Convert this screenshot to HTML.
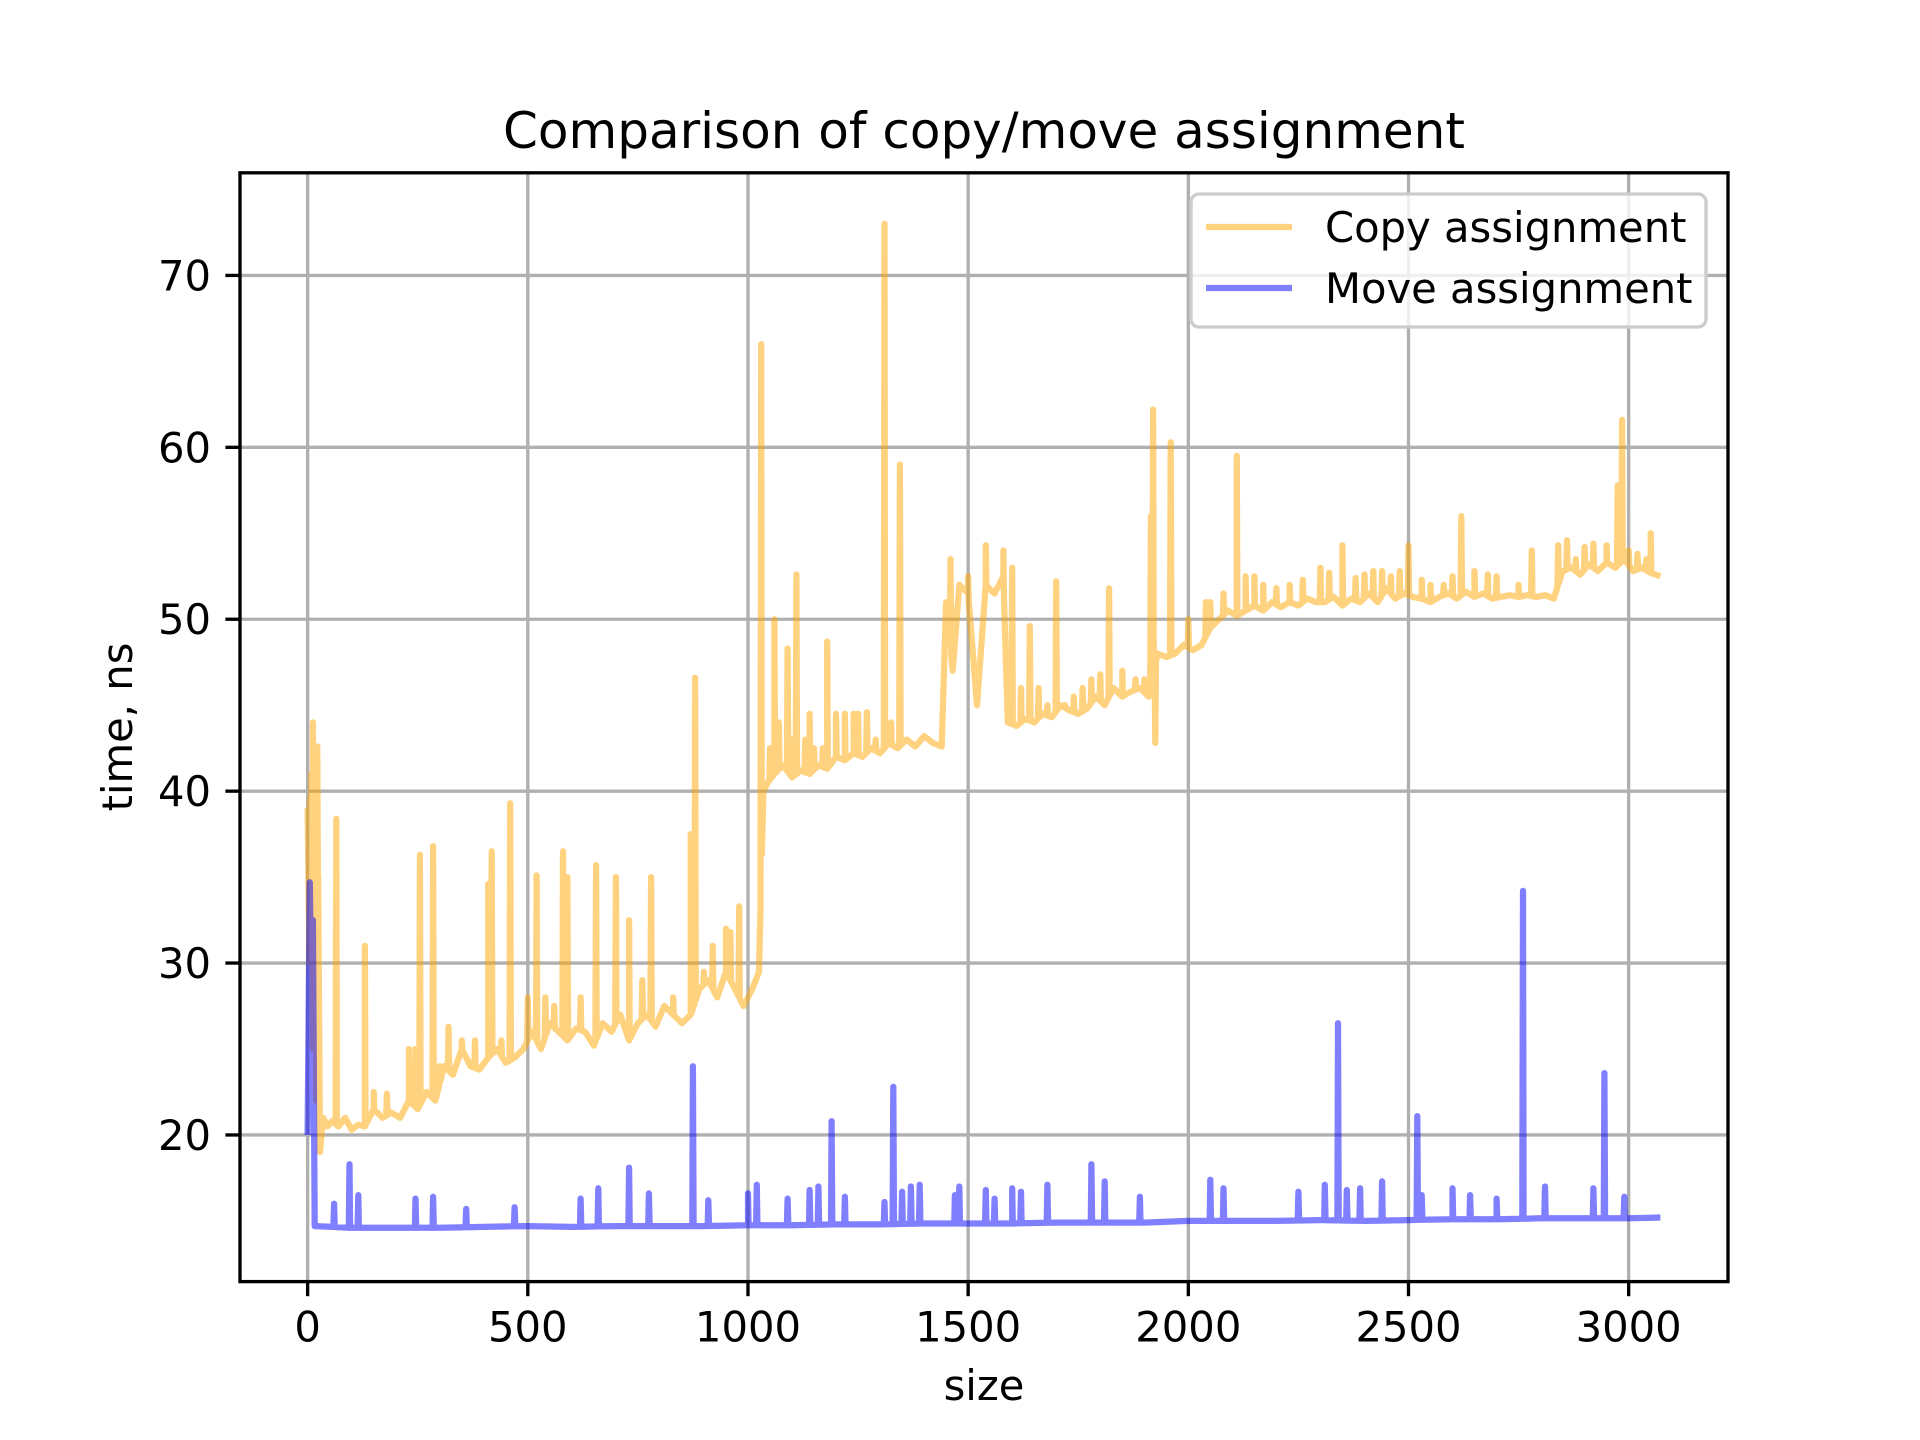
<!DOCTYPE html>
<html><head><meta charset="utf-8"><style>
html,body{margin:0;padding:0;background:#fff;}
svg{display:block;font-family:"DejaVu Sans","Liberation Sans",sans-serif;}
</style></head><body>
<svg id="chart" width="1920" height="1440" viewBox="0 0 1920 1440" xmlns="http://www.w3.org/2000/svg">
<rect x="0" y="0" width="1920" height="1440" fill="#fff"/>
<defs><clipPath id="clip"><rect x="240" y="172.8" width="1488" height="1108.8"/></clipPath></defs>
<g id="grid"></g>
<g id="series" clip-path="url(#clip)"></g>
<rect x="240" y="172.8" width="1488" height="1108.8" fill="none" stroke="#000" stroke-width="3.33"/>
<g id="ticks"></g>
<text x="984" y="148" font-size="50" text-anchor="middle">Comparison of copy/move assignment</text>
<text x="984" y="1400" font-size="41.7" text-anchor="middle">size</text>
<text x="0" y="0" font-size="41.7" text-anchor="middle" transform="translate(132,727) rotate(-90)">time,  ns</text>
<g>
<rect x="1191" y="194" width="515" height="133" rx="8" fill="#fff" fill-opacity="0.8" stroke="#ccc" stroke-width="3.33"/>
<line x1="1206" y1="227" x2="1292" y2="227" stroke="#ffa500" stroke-opacity="0.5" stroke-width="6.25"/>
<text x="1325" y="242" font-size="41.7">Copy assignment</text>
<line x1="1206" y1="288" x2="1292" y2="288" stroke="#0000ff" stroke-opacity="0.5" stroke-width="6.25"/>
<text x="1325" y="303" font-size="41.7">Move assignment</text>
</g>
</svg>
<script>
const xTicks=[0,500,1000,1500,2000,2500,3000];
const yTicks=[20,30,40,50,60,70];
const copyBaseSizes=[0,4,8,12,16,20,24,28,35,45,
55,70,85,100,115,130,150,170,190,210,
230,250,270,290,310,330,350,370,390,410,
430,450,470,490,510,530,550,570,590,610,
630,650,670,690,710,730,750,770,790,810,
830,850,870,890,910,930,950,970,990,1010,
1025,1035,1045,1060,1080,1100,1120,1140,1160,1180,
1200,1220,1240,1260,1280,1300,1320,1340,1360,1380,
1400,1420,1440,1450,1465,1480,1500,1520,1540,1560,
1580,1590,1610,1630,1650,1670,1690,1710,1730,1750,
1770,1790,1810,1830,1850,1870,1890,1910,1930,1950,
1970,1990,2010,2030,2050,2070,2090,2110,2130,2150,
2170,2190,2210,2230,2250,2270,2290,2310,2330,2350,
2370,2390,2410,2430,2450,2470,2490,2510,2530,2550,
2570,2590,2610,2630,2650,2670,2690,2710,2730,2750,
2770,2790,2810,2830,2850,2870,2890,2910,2930,2950,
2970,2990,3010,3030,3050,3072];
const copyBaseValues=[39,30,41,25,38,22,35,19,21,20.5,
20.8,20.5,21,20.3,20.6,20.5,21.5,21,21.3,21,
22,21.5,22.5,22,24,23.5,25,24,23.8,24.5,
25,24.2,24.5,25,26,25,26.5,26,25.5,26.2,
26,25.2,26.5,26,27,25.5,26.5,27,26.3,27.5,
27,26.5,27,28.5,29,28,29.5,28.5,27.5,28.5,
29.5,40,40.5,41,41.5,40.8,41.2,41,41.5,41.3,
42,41.8,42.2,42,42.5,42.2,42.8,42.5,43,42.6,
43.2,42.8,42.6,51,47,52,51.5,45,52,51.5,
52.5,44,43.8,44.2,44,44.5,44.3,45,44.7,44.5,
44.8,45.5,45,46,45.5,45.8,46,45.5,48,47.8,
48,48.5,48.2,48.5,49.5,50,50.5,50.2,50.5,50.8,
50.5,51,50.7,51,50.8,51.2,51,51,51.3,50.8,
51.2,51,51.5,51,51.8,51.2,51.5,51.3,51.2,51,
51.3,51.5,51.2,51.6,51.3,51.5,51.2,51.3,51.4,51.3,
51.4,51.3,51.4,51.2,52.8,53,52.6,53.2,52.8,53.3,
53,53.5,52.8,53,52.7,52.5];
const copySpikeSizes=[5,12,18,22,65,130,245,255,285,320,
350,410,418,460,500,520,580,590,655,700,
730,780,870,880,920,950,980,1030,1060,1090,
1110,1130,1150,1180,1200,1250,1310,1325,1345,1460,
1500,1540,1580,1600,1640,1700,1720,1780,1820,1900,
1915,1920,1925,1960,2000,2040,2110,2150,2200,2300,
2350,2400,2440,2500,2550,2620,2700,2780,2840,2900,
2950,2975,2985,3000,3050];
const copySpikeValues=[39.5,44,42,42.6,38.4,31,25,36.3,36.8,26.3,
25.5,34.6,36.5,39.3,28,35.1,36.5,35,35.7,35,
32.5,35,37.5,46.6,31,32,33.3,66,50,48.3,
52.6,43,42.5,48.7,44.5,44.5,73,44,59,53.5,
52.5,54.3,54,53,49.6,52.2,45,46.5,51.8,46.5,
56,62.2,42.8,60.3,50,51,59.5,52.5,51.8,53,
54.3,52.6,52.8,54.3,52,56,52.5,54,54.3,54.2,
54.3,57.8,61.6,54,55];
const copyMinorSizes=[150,180,230,300,380,440,540,560,620,760,
830,900,960,1050,1070,1100,1140,1170,1220,1240,
1270,1290,1620,1660,1680,1740,1760,1800,1850,1880,
2050,2080,2130,2170,2230,2260,2320,2380,2420,2460,
2480,2530,2580,2600,2650,2680,2750,2860,2880,2920,
3020,3040];
const copyMinorValues=[22.5,22.4,25,24,25.5,25.5,28,27.5,28,29,
28,29.5,31.8,42.5,44,43,44.5,42.5,44.5,44.5,
44.6,43,46,46,45,45.5,46,46.8,47,46.5,
51,51.5,52.5,52,52,52.3,52.7,52.4,52.8,52.5,
52.8,52.3,52,52.5,52.8,52.6,52,54.6,53.5,54.4,
53.8,53.5];
const moveBaseSizes=[0,5,9,12,16,100,200,300,400,500,600,700,800,900,1000,
1100,1200,1300,1400,1500,1600,1700,1800,1900,2000,
2100,2200,2300,2400,2500,2600,2700,2800,2900,3000,3072];
const moveBaseValues=[20,34.7,26,32.5,14.7,14.6,14.6,14.6,14.65,14.7,14.65,14.7,14.7,14.7,14.75,
14.75,14.8,14.8,14.85,14.85,14.85,14.9,14.9,14.9,15.0,
15,15,15.05,15,15.05,15.1,15.1,15.15,15.15,15.15,15.2];
const moveSpikeSizes=[60,95,115,245,285,360,470,620,660,730,
775,875,910,1000,1020,1090,1140,1160,1190,1220,
1310,1330,1350,1370,1390,1470,1480,1540,1560,1600,
1620,1680,1780,1810,1890,2050,2080,2250,2310,2340,
2360,2390,2440,2520,2530,2600,2640,2700,2760,2810,
2920,2945,2990];
const moveSpikeValues=[16,18.3,16.5,16.3,16.4,15.7,15.8,16.3,16.9,18.1,
16.6,24,16.2,16.6,17.1,16.3,16.8,17,20.8,16.4,
16.1,22.8,16.7,17,17.1,16.5,17,16.8,16.3,16.9,
16.7,17.1,18.3,17.3,16.4,17.4,16.9,16.7,17.1,26.5,
16.8,16.9,17.3,21.1,16.5,16.9,16.5,16.3,34.2,17,
16.9,23.6,16.4];

const X0=240,X1=1728,Y0=172.8,Y1=1281.6,XMIN=-153.6,XMAX=3225.6,YMIN=11.47,YMAX=75.97;
const sx=v=>X0+(v-XMIN)/(XMAX-XMIN)*(X1-X0);
const sy=v=>Y1-(v-YMIN)/(YMAX-YMIN)*(Y1-Y0);
const NS='http://www.w3.org/2000/svg';
function mk(tag,attrs,parent){const e=document.createElementNS(NS,tag);for(const k in attrs)e.setAttribute(k,attrs[k]);parent.appendChild(e);return e;}
const grid=document.getElementById('grid'),ticks=document.getElementById('ticks'),series=document.getElementById('series');
xTicks.forEach(t=>{const x=sx(t);
 const g=mk('line',{x1:x,y1:Y0,x2:x,y2:Y1,stroke:'#b0b0b0','stroke-width':3.33},grid);
 
 
 const tk=mk('line',{x1:x,y1:Y1,x2:x,y2:Y1+14.6,stroke:'#000','stroke-width':3.33},ticks);
 
 
 const tl=mk('text',{x:x,y:Y1+60,'font-size':41.7,'text-anchor':'middle'},ticks);tl.textContent=t;
 
 
});
yTicks.forEach(t=>{const y=sy(t);
 const g=mk('line',{x1:X0,y1:y,x2:X1,y2:y,stroke:'#b0b0b0','stroke-width':3.33},grid);
 
 
 const tk=mk('line',{x1:X0-14.6,y1:y,x2:X0,y2:y,stroke:'#000','stroke-width':3.33},ticks);
 
 
 const tl=mk('text',{x:X0-29,y:y+15,'font-size':41.7,'text-anchor':'end'},ticks);tl.textContent=t;
 
 
});
function baseAt(bs,bv,x){for(let i=0;i<bs.length-1;i++){if(x>=bs[i]&&x<=bs[i+1]){const f=(x-bs[i])/(bs[i+1]-bs[i]);return bv[i]+f*(bv[i+1]-bv[i]);}}return bv[bv.length-1];}
function build(bs,bv,ss,svals){const pts=bs.map((s,i)=>[s,bv[i]]);
 ss.forEach((s,i)=>{pts.push([s-1.5,baseAt(bs,bv,s-1.5)]);pts.push([s,svals[i]]);pts.push([s+1.5,baseAt(bs,bv,s+1.5)]);});
 pts.sort((a,b)=>a[0]-b[0]);return pts.map(p=>sx(p[0]).toFixed(1)+','+sy(p[1]).toFixed(1)).join(' ');}
const copy=mk('polyline',{points:build(copyBaseSizes,copyBaseValues,copySpikeSizes.concat(copyMinorSizes),copySpikeValues.concat(copyMinorValues)),fill:'none',stroke:'#ffa500','stroke-opacity':0.5,'stroke-width':6.25,'stroke-linejoin':'round'},series);


const move=mk('polyline',{points:build(moveBaseSizes,moveBaseValues,moveSpikeSizes,moveSpikeValues),fill:'none',stroke:'#0000ff','stroke-opacity':0.5,'stroke-width':6.25,'stroke-linejoin':'round'},series);


</script>
</body></html>
